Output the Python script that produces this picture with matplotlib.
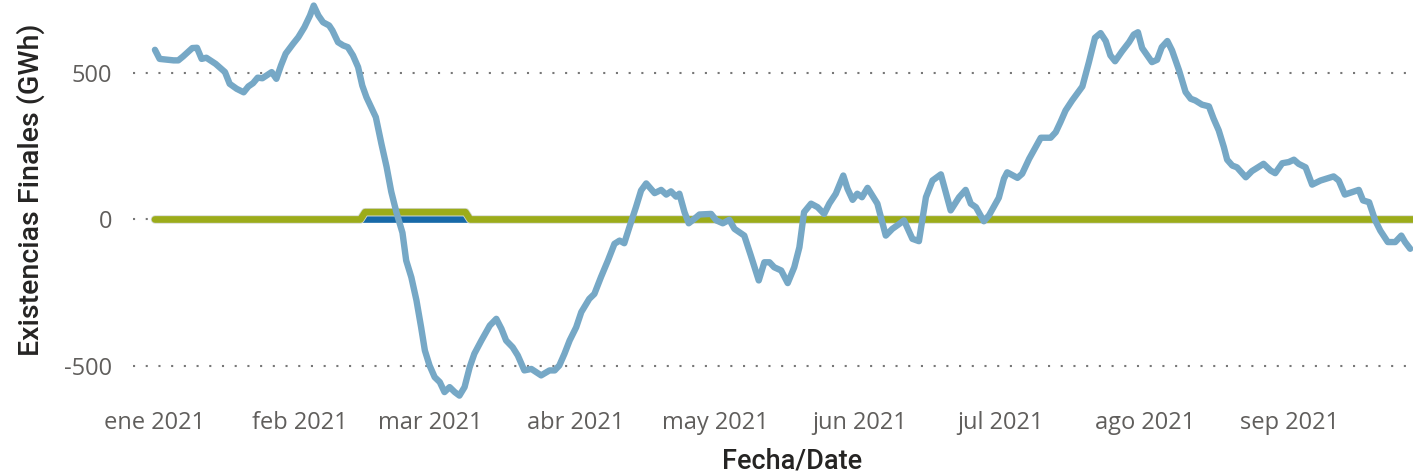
"""
Existencias finales (GWh) a lo largo de 2021.
"""
import matplotlib.pyplot as plt
import matplotlib.patheffects as pe
import pandas as pd

# días desde el 1 de enero de 2021 y existencias finales (GWh)
dias = [0, 1, 4, 5, 6, 8, 9, 10, 11, 13, 15, 16, 17.5, 19, 20, 21, 22, 23, 25, 26,
        27, 28, 29.6, 30.7, 32, 33.2, 34, 35, 36, 37.3, 38, 39.2, 40.3, 41.3, 42.4,
        43.5, 44.4, 45.3, 47.3, 48.5, 49.6, 50.6, 51.7, 53, 53.8, 54.9, 56, 57, 57.8,
        58.8, 59.9, 61, 62, 63.1, 64.2, 65.2, 66.3, 67.4, 68.4, 69.9, 71.7, 73.1,
        74.2, 75.2, 76.6, 77.7, 79.1, 80.6, 82.7, 84.5, 85.6, 86.6, 87.7, 88.8, 90.2,
        91.3, 93, 94.1, 95.5, 97, 98.4, 99.5, 100.5, 101.6, 103, 104.1, 105.2, 107,
        108.4, 109.5, 110.5, 111.6, 112.3, 113.4, 114.3, 115.5, 116.6, 119.1, 120.2,
        121.6, 123, 124.1, 126.2, 127.6, 129.3, 130.5, 131.6, 132.6, 134.1, 135.5,
        136.9, 138, 139, 140.5, 141.9, 143.3, 144.4, 145.8, 147.4, 148.3, 149.4,
        150.4, 151.4, 152.6, 154.7, 156.5, 157.9, 159.4, 160.4, 162.2, 163.6, 165.1,
        166.5, 168.3, 170.4, 172.2, 173.6, 174.7, 175.8, 177.5, 178.6, 180.7, 181.8,
        182.5, 184.7, 185.7, 187.2, 189.7, 191.8, 192.9, 193.9, 195, 196.4, 198.6,
        200, 201.3, 202.5, 203.6, 204.6, 205.6, 207.1, 208.6, 209.6, 210.5, 211.4,
        212.5, 213.5, 214.6, 215.6, 216.8, 217.8, 219.3, 220.7, 221.8, 222.8, 224.2,
        225.7, 226.7, 227.8, 228.9, 229.6, 230.7, 231.7, 233.6, 234.9, 237.4, 238.9,
        239.9, 241.4, 242.8, 243.9, 244.9, 246.4, 247.8, 249.6, 252.4, 253.5, 254.8,
        256.3, 257.8, 258.7, 260, 261.3, 262.4, 264, 265.6, 266.9, 267.7, 268.8]
existencias = [579, 548, 543, 543, 556, 585, 586, 548, 552, 531, 503, 463, 446, 434, 454,
               465, 484, 482, 503, 480, 526, 566, 600, 622, 656, 696, 730, 696, 673, 662,
               645, 605, 594, 588, 560, 520, 457, 417, 349, 258, 180, 95, 25, -45, -140,
               -197, -276, -368, -447, -498, -538, -555, -589, -572, -589, -601, -572,
               -504, -458, -413, -362, -339, -373, -413, -436, -464, -515, -510, -532,
               -515, -515, -498, -458, -413, -368, -316, -271, -254, -197, -140, -83,
               -72, -81, -26, 42, 99, 123, 90, 101, 85, 96, 78, 88, 25, -13, 2, 17, 19,
               -3, -13, -1, -32, -55, -123, -208, -146, -146, -163, -174, -217, -163,
               -95, 25, 54, 42, 19, 54, 88, 150, 105, 67, 88, 76, 108, 54, -55, -32,
               -15, -3, -66, -74, 76, 133, 154, 31, 76, 101, 54, 42, -6, 14, 74, 139,
               161, 142, 156, 207, 279, 279, 298, 332, 372, 406, 454, 537, 620, 636,
               609, 560, 540, 574, 605, 631, 639, 585, 560, 537, 545, 588, 609, 577,
               509, 435, 412, 406, 392, 386, 344, 304, 247, 204, 184, 178, 144, 165,
               190, 167, 158, 192, 196, 204, 190, 178, 119, 133, 147, 133, 85, 93, 101,
               65, 59, -3, -38, -77, -77, -55, -77, -100]

# series casi planas
dias_verde = [0, 44, 45, 66.5, 67.5, 272]
verde = [0, 0, 25, 25, 0, 0]
dias_azul = [0, 272]
azul = [0, 0]

meses = ["ene 2021", "feb 2021", "mar 2021", "abr 2021", "may 2021",
         "jun 2021", "jul 2021", "ago 2021", "sep 2021"]

inicio = pd.Timestamp("2021-01-01")
fechas = inicio + pd.to_timedelta(dias, unit="D")
fechas_verde = inicio + pd.to_timedelta(dias_verde, unit="D")
fechas_azul = inicio + pd.to_timedelta(dias_azul, unit="D")

fig = plt.figure(figsize=(14.13, 4.73), dpi=100)
ax = fig.add_axes([133 / 1413, 73 / 473, 1280 / 1413, 400 / 473])

ax.plot(fechas_azul, azul, color="#1769A8", linewidth=4.8, solid_capstyle="round", zorder=2)
ax.plot(fechas_verde, verde, color="#9CAC1A", linewidth=4.8, solid_capstyle="round",
        solid_joinstyle="round", zorder=3,
        path_effects=[pe.Stroke(linewidth=6.0, foreground="#d3d8cf"), pe.Normal()])
ax.plot(fechas, existencias, color="#76A8C6", linewidth=4.6, solid_capstyle="round",
        solid_joinstyle="round", zorder=4)

ax.set_xlim(inicio - pd.Timedelta(days=4.7), inicio + pd.Timedelta(days=269.4))
ax.set_ylim(-616, 749)

ax.set_yticks([-500, 0, 500])
ax.set_yticklabels(["-500", "0", "500"])
ax.set_xticks(pd.date_range("2021-01-01", periods=9, freq="MS"))
ax.set_xticklabels(meses)

ax.tick_params(axis="both", length=0, labelsize=17, labelcolor="#605E5C")
ax.tick_params(axis="y", pad=15)
ax.tick_params(axis="x", pad=8)
for lab in ax.get_xticklabels() + ax.get_yticklabels():
    lab.set_fontfamily("Open Sans")

ax.grid(axis="y", linestyle=(0, (1, 5.1)), linewidth=1.5, color="#777777")
ax.grid(axis="x", visible=False)
for s in ax.spines.values():
    s.set_visible(False)

fig.text(31 / 1413, 1 - 190 / 473, "Existencias Finales (GWh)", rotation=90,
         ha="center", va="center", fontsize=20.5, color="#252423", family="Roboto",
         fontweight="medium")
fig.text(792 / 1413, 1 - 461 / 473, "Fecha/Date", ha="center", va="center",
         fontsize=19.5, color="#252423", family="Roboto", fontweight="medium")

plt.savefig("out.png", dpi=100)
plt.close()
